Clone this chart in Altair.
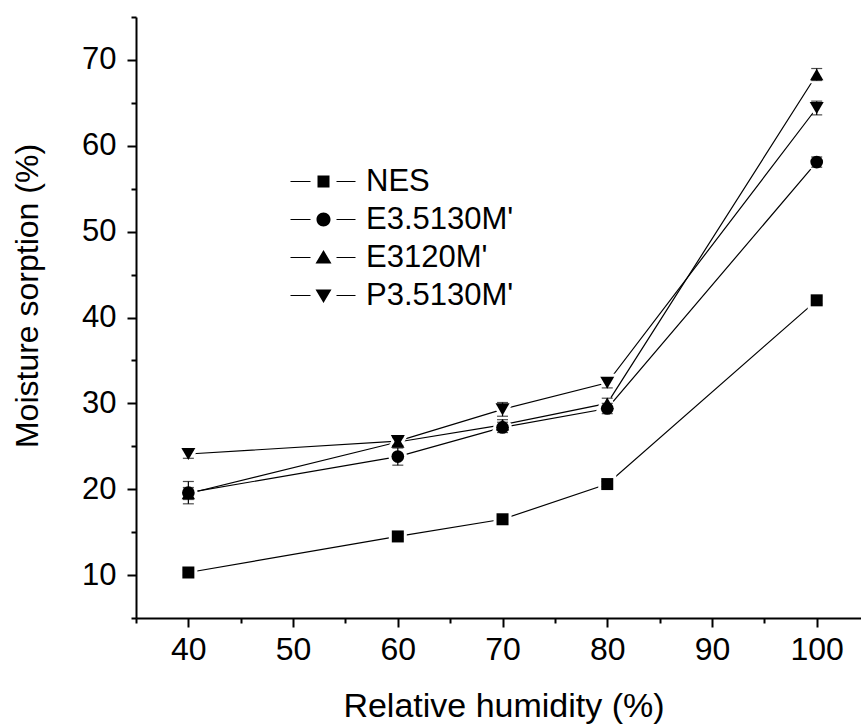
import altair as alt
import pandas as pd

# Relative humidity levels (%)
humidity = [40, 60, 70, 80, 100]

# Series names, in legend order
series_names = ["NES", "E3.5130M'", "E3120M'", "P3.5130M'"]

# Moisture sorption (%) per series
nes = [10.3, 14.5, 16.5, 20.6, 42.0]
e35130 = [19.6, 23.8, 27.2, 29.4, 58.1]
e3120 = [19.5, 25.5, 27.5, 30.0, 68.3]
p35130 = [24.1, 25.6, 29.3, 32.4, 64.4]

# Error (±) per point
nes_err = [0.3, 0.3, 0.3, 0.3, 0.4]
e35130_err = [1.3, 1.0, 0.6, 0.6, 0.6]
e3120_err = [0.7, 0.5, 0.6, 0.6, 0.7]
p35130_err = [0.5, 0.5, 0.8, 0.6, 0.8]

rows = []
for name, vals, errs in zip(series_names,
                            [nes, e35130, e3120, p35130],
                            [nes_err, e35130_err, e3120_err, p35130_err]):
    for rh, v, e in zip(humidity, vals, errs):
        rows.append({"series": name, "rh": rh, "value": v,
                     "lo": v - e, "hi": v + e})
df = pd.DataFrame(rows)

marker_shapes = ["square", "circle", "triangle-up", "triangle-down"]
marker_sizes = [144, 196, 250, 250]

# Legend glyphs: short line, marker, short line (units of 10 px at size 400);
# the line pieces are thin filled bars so they show with the symbol fill
seg = ("M-3.3,-0.06L-1.3,-0.06L-1.3,0.06L-3.3,0.06Z"
       "M1.3,-0.06L3.2,-0.06L3.2,0.06L1.3,0.06Z")
legend_glyphs = [
    seg + "M-0.6,-0.6L0.6,-0.6L0.6,0.6L-0.6,0.6Z",
    seg + "M-0.7,0A0.7,0.7,0,1,1,0.7,0A0.7,0.7,0,1,1,-0.7,0Z",
    seg + "M0,-0.75L0.8,0.6L-0.8,0.6Z",
    seg + "M0,0.75L0.8,-0.6L-0.8,-0.6Z",
]

major_test = "datum.value % 10 === 0"
tick_size = {"condition": {"test": major_test, "value": 9}, "value": 5}

x = alt.X(
    "rh:Q",
    scale=alt.Scale(domain=[35, 104.23], nice=False, zero=False),
    axis=alt.Axis(
        values=list(range(35, 105, 5)),
        labelExpr=f"{major_test} ? datum.label : ''",
        tickSize=tick_size,
        labelPadding=7,
        labelFontSize=32,
        title="Relative humidity (%)",
        titleFontSize=34,
        titleX=367.5, titleY=98, titleBaseline="alphabetic",
        titleAlign="center",
    ),
)
y = alt.Y(
    "value:Q",
    scale=alt.Scale(domain=[5, 75], nice=False, zero=False),
    axis=alt.Axis(
        values=list(range(5, 80, 5)),
        labelExpr=f"{major_test} ? datum.label : ''",
        tickSize=tick_size,
        labelPadding=11,
        labelFontSize=31,
        title="Moisture sorption (%)",
        titleFontSize=32,
        titleX=-99, titleY=278.5, titleBaseline="alphabetic",
        titleAlign="center", titleAngle=-90,
    ),
)

shape_enc = alt.Shape("series:N", scale=alt.Scale(domain=series_names, range=marker_shapes), legend=None)
size_enc = alt.Size("series:N", scale=alt.Scale(domain=series_names, range=marker_sizes), legend=None)

base = alt.Chart(df)

lines = base.mark_line(color="black", strokeWidth=1.2).encode(
    x=x, y=y, detail="series:N"
)

halo = base.mark_point(filled=True, fill="white", stroke="white", strokeWidth=6, opacity=1).encode(
    x="rh:Q", y="value:Q", shape=shape_enc, size=size_enc
)

err_rule = base.mark_rule(color="black", strokeWidth=1.2).encode(
    x="rh:Q", y="lo:Q", y2="hi:Q"
)
err_cap_lo = base.mark_tick(color="black", orient="horizontal", size=11, thickness=1.2).encode(
    x="rh:Q", y="lo:Q"
)
err_cap_hi = base.mark_tick(color="black", orient="horizontal", size=11, thickness=1.2).encode(
    x="rh:Q", y="hi:Q"
)

markers = base.mark_point(filled=True, color="black", opacity=1).encode(
    x="rh:Q", y="value:Q", shape=shape_enc, size=size_enc
)

# Legend-only layer: no marks drawn, the legend comes from its shape scale
legend_layer = base.transform_filter("false").mark_point(
    filled=True, color="black", size=400, opacity=1
).encode(
    shape=alt.Shape(
        "series:N",
        scale=alt.Scale(domain=series_names, range=legend_glyphs),
        legend=alt.Legend(
            title=None, orient="none", legendX=152, legendY=149,
            padding=0, rowPadding=6, symbolOffset=20, labelOffset=27,
            symbolSize=400, symbolFillColor="black", symbolOpacity=1,
            labelFont="Liberation Sans", labelFontSize=31, labelColor="black",
            labelLimit=400,
        ),
    )
)

chart = alt.layer(
    lines, halo, err_rule, err_cap_lo, err_cap_hi, markers, legend_layer
).resolve_scale(shape="independent", size="independent").properties(
    width=725, height=601,
    autosize=alt.AutoSizeParams(type="none"),
    padding={"left": 136, "top": 17, "right": 0, "bottom": 108},
).configure_view(stroke=None).configure_axis(
    grid=False,
    domainColor="black", domainWidth=2,
    tickColor="black", tickWidth=2,
    labelFont="Liberation Sans", labelFontSize=31, labelColor="black",
    labelOverlap=False, labelFlush=False, labelBound=False,
    titleFont="Liberation Sans", titleFontSize=32, titleFontWeight="normal",
    titleColor="black",
)

chart.save("out.html", embed_options={"renderer": "svg", "actions": False})
